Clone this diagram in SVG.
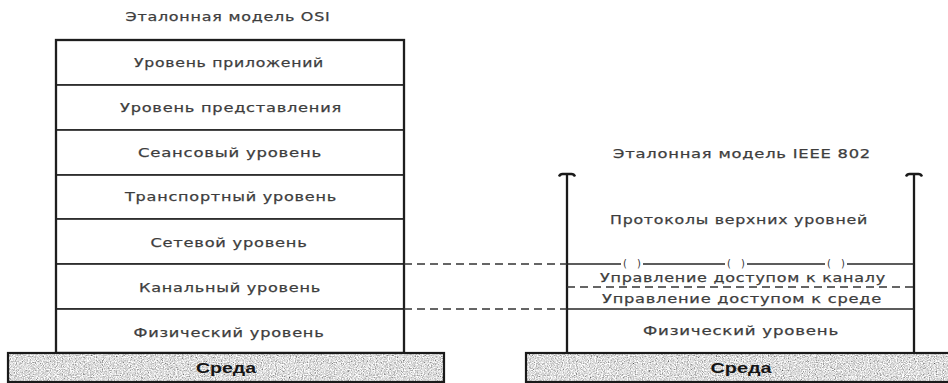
<svg xmlns="http://www.w3.org/2000/svg" width="948" height="383" viewBox="0 0 948 383">
<style>
.bg{fill:#ffffff}
.lay{fill:#ffffff;stroke:#2b2b2b;stroke-width:1.7}
.frame{fill:none;stroke:#1e1e1e;stroke-width:2.3}
.t{font-family:"DejaVu Sans","Liberation Sans",sans-serif;font-size:12.5px;fill:#3d3d3d;stroke:#3d3d3d;stroke-width:0.25;text-anchor:middle;letter-spacing:0.6px}
.tb{font-family:"Liberation Sans",Arial,sans-serif;font-size:14px;font-weight:bold;fill:#151515;text-anchor:middle}
.ln{stroke:#262626;stroke-width:1.7;fill:none}
.vl{stroke:#1a1a1a;stroke-width:2.3;fill:none}
.dash{stroke:#333333;stroke-width:1.7;stroke-dasharray:8 5;fill:none}
.par{font-family:"DejaVu Sans","Liberation Sans",sans-serif;font-size:10px;fill:#333;text-anchor:middle}
</style>
<defs>
<filter id="speckle" x="0" y="0" width="100%" height="100%" filterUnits="objectBoundingBox">
<feTurbulence type="fractalNoise" baseFrequency="0.85" numOctaves="2" seed="7" result="n"/>
<feColorMatrix in="n" type="matrix" values="1.1 1.1 0 0 -0.38  1.1 1.1 0 0 -0.38  1.1 1.1 0 0 -0.38  0 0 0 0 1"/>
</filter>
</defs>
<rect class="bg" x="0" y="0" width="948" height="383"/>

<g id="osi-title"><text class="t" x="228" y="21" textLength="205" lengthAdjust="spacingAndGlyphs">Эталонная модель OSI</text></g>

<g id="osi-application"><rect class="lay" x="56" y="40" width="348" height="45"/><text class="t" x="229" y="67" textLength="190" lengthAdjust="spacingAndGlyphs">Уровень приложений</text></g>
<g id="osi-presentation"><rect class="lay" x="56" y="85" width="348" height="45"/><text class="t" x="231" y="112" textLength="222" lengthAdjust="spacingAndGlyphs">Уровень представления</text></g>
<g id="osi-session"><rect class="lay" x="56" y="130" width="348" height="45"/><text class="t" x="230" y="157" textLength="184" lengthAdjust="spacingAndGlyphs">Сеансовый уровень</text></g>
<g id="osi-transport"><rect class="lay" x="56" y="175" width="348" height="44"/><text class="t" x="231" y="201" textLength="212" lengthAdjust="spacingAndGlyphs">Транспортный уровень</text></g>
<g id="osi-network"><rect class="lay" x="56" y="219" width="348" height="45"/><text class="t" x="229" y="247" textLength="157" lengthAdjust="spacingAndGlyphs">Сетевой уровень</text></g>
<g id="osi-datalink"><rect class="lay" x="56" y="264" width="348" height="45"/><text class="t" x="230" y="292" textLength="182" lengthAdjust="spacingAndGlyphs">Канальный уровень</text></g>
<g id="osi-physical"><rect class="lay" x="56" y="309" width="348" height="44"/><text class="t" x="229" y="337" textLength="191" lengthAdjust="spacingAndGlyphs">Физический уровень</text></g>
<g id="osi-frame"><rect class="frame" x="56" y="40" width="348" height="313"/></g>

<g id="osi-media">
<rect x="8" y="353" width="436" height="29" fill="#c0c0c0" filter="url(#speckle)"/>
<rect x="8" y="353" width="436" height="29" fill="none" stroke="#1a1a1a" stroke-width="2.2"/>
<text class="tb" x="226" y="373" textLength="60" lengthAdjust="spacingAndGlyphs">Среда</text>
</g>

<g id="ieee-title"><text class="t" x="742" y="158" textLength="258" lengthAdjust="spacingAndGlyphs">Эталонная модель IEEE 802</text></g>

<g id="ieee-frame">
<line class="vl" x1="567" y1="174" x2="567" y2="353"/>
<line class="vl" x1="914" y1="174" x2="914" y2="353"/>
<path class="vl" d="M559,176.5 Q560,174 562.5,174 L571.5,174 Q574,174 575,176.5"/>
<path class="vl" d="M906,176.5 Q907,174 909.5,174 L918.5,174 Q921,174 922,176.5"/>
</g>

<g id="ieee-upper"><text class="t" x="739" y="224" textLength="258" lengthAdjust="spacingAndGlyphs">Протоколы верхних уровней</text></g>

<g id="ieee-sap-line">
<line class="ln" x1="567" y1="264" x2="621" y2="264"/>
<line class="ln" x1="643" y1="264" x2="725" y2="264"/>
<line class="ln" x1="747" y1="264" x2="825" y2="264"/>
<line class="ln" x1="847" y1="264" x2="914" y2="264"/>
<text class="par" x="632" y="267" textLength="18">( )</text>
<text class="par" x="736" y="267" textLength="18">( )</text>
<text class="par" x="836" y="267" textLength="18">( )</text>
</g>

<g id="ieee-llc"><text class="t" x="743" y="282" textLength="286" lengthAdjust="spacingAndGlyphs">Управление доступом к каналу</text></g>
<g id="ieee-mac"><text class="t" x="742" y="302.5" textLength="280" lengthAdjust="spacingAndGlyphs">Управление доступом к среде</text></g>
<g id="ieee-physical"><text class="t" x="741" y="335" textLength="196" lengthAdjust="spacingAndGlyphs">Физический уровень</text></g>

<g id="ieee-media">
<rect x="526" y="353" width="430" height="29" fill="#c0c0c0" filter="url(#speckle)"/>
<rect x="526" y="353" width="430" height="29" fill="none" stroke="#1a1a1a" stroke-width="2.2"/>
<text class="tb" x="741" y="373" textLength="61" lengthAdjust="spacingAndGlyphs">Среда</text>
</g>

<g id="connectors">
<line class="dash" x1="404" y1="264" x2="567" y2="264"/>
<line class="dash" x1="404" y1="309" x2="567" y2="309"/>
<line class="dash" x1="567" y1="287" x2="914" y2="287"/>
<line class="ln" x1="567" y1="309" x2="914" y2="309"/>
</g>
</svg>
